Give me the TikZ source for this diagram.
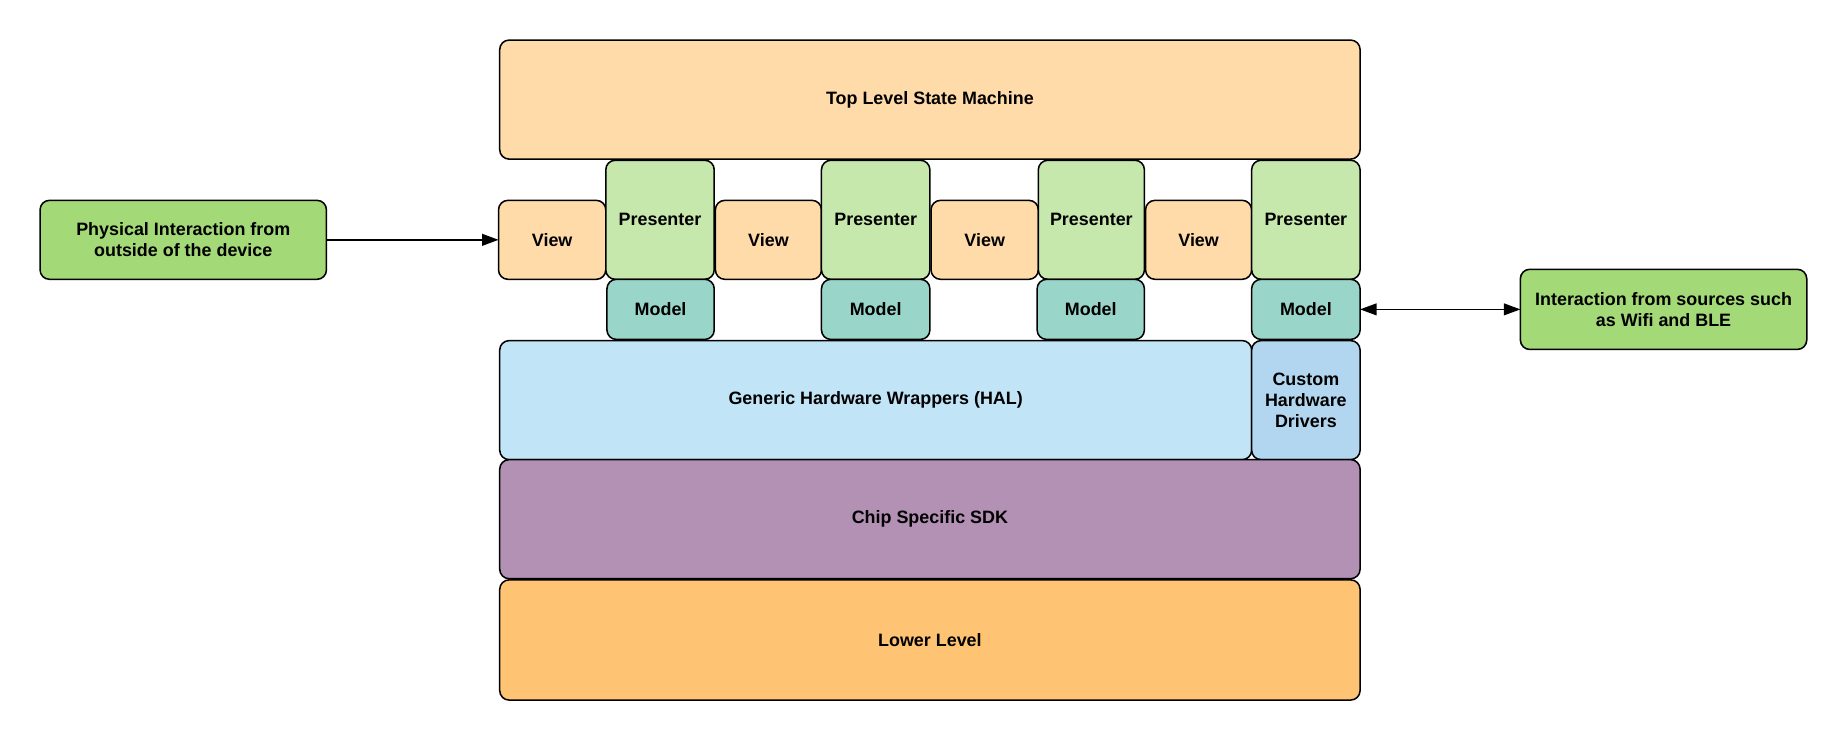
\documentclass[tikz,border=0pt]{standalone}
\usepackage{fontspec}
\setmainfont{Liberation Sans}
\usetikzlibrary{arrows.meta}
\definecolor{cpeach}{HTML}{FFDBA9}
\definecolor{cpres}{HTML}{C7E8AC}
\definecolor{cmodel}{HTML}{9AD5CA}
\definecolor{chal}{HTML}{C1E4F7}
\definecolor{ccustom}{HTML}{B2D6EF}
\definecolor{cchip}{HTML}{B391B5}
\definecolor{clower}{HTML}{FFC374}
\definecolor{cgreen}{HTML}{A3D977}
\tikzset{
  box/.style={draw=black, line width=1.3pt, rounded corners=8pt, inner sep=0pt, outer sep=0pt,
    align=center, font=\bfseries\fontsize{15.2}{18}\selectfont},
  conn/.style={line width=1.3pt, draw=black, >={Triangle[length=14pt,width=10pt]}},
}
\begin{document}
\begin{tikzpicture}[x=1pt,y=-1pt]
\useasboundingbox (0,0) rectangle (1568,628);
% top
\node[box, fill=cpeach, minimum width=730pt, minimum height=101pt] (top) at (789,84.5) {Top Level State Machine};
% views
\node[box, fill=cpeach, minimum width=91pt, minimum height=67pt] (v1) at (468.5,203.5) {View};
\node[box, fill=cpeach, minimum width=90pt, minimum height=67pt] (v2) at (652,203.5) {View};
\node[box, fill=cpeach, minimum width=91pt, minimum height=67pt] (v3) at (835.5,203.5) {View};
\node[box, fill=cpeach, minimum width=90pt, minimum height=67pt] (v4) at (1017,203.5) {View};
% presenters
\node[box, fill=cpres, minimum width=92pt, minimum height=101pt] (p1) at (560,186.5) {Presenter};
\node[box, fill=cpres, minimum width=92pt, minimum height=101pt] (p2) at (743,186.5) {Presenter};
\node[box, fill=cpres, minimum width=90pt, minimum height=101pt] (p3) at (926,186.5) {Presenter};
\node[box, fill=cpres, minimum width=92pt, minimum height=101pt] (p4) at (1108,186.5) {Presenter};
% models
\node[box, fill=cmodel, minimum width=91pt, minimum height=51pt] (m1) at (560.5,262.5) {Model};
\node[box, fill=cmodel, minimum width=92pt, minimum height=51pt] (m2) at (743,262.5) {Model};
\node[box, fill=cmodel, minimum width=91pt, minimum height=51pt] (m3) at (925.5,262.5) {Model};
\node[box, fill=cmodel, minimum width=92pt, minimum height=51pt] (m4) at (1108,262.5) {Model};
% hal
\node[box, fill=chal, minimum width=638pt, minimum height=101pt] (hal) at (743,339.5) {Generic Hardware Wrappers (HAL)};
\node[box, fill=ccustom, minimum width=92pt, minimum height=101pt] (custom) at (1108,339.5) {Custom\\Hardware\\Drivers};
% chip and lower
\node[box, fill=cchip, minimum width=730pt, minimum height=101pt] (chip) at (789,440.5) {Chip Specific SDK};
\node[box, fill=clower, minimum width=730pt, minimum height=102pt] (lower) at (789,543) {Lower Level};
% side boxes
\node[box, fill=cgreen, minimum width=243pt, minimum height=67pt] (phys) at (155.5,203.5) {Physical Interaction from\\outside of the device};
\node[box, fill=cgreen, minimum width=243pt, minimum height=68pt] (wifi) at (1411.5,262.5) {Interaction from sources such\\as Wifi and BLE};
% connectors
\draw[conn, ->] (phys.east) -- (v1.west);
\draw[conn, <->] (m4.east) -- (wifi.west);
\end{tikzpicture}
\end{document}
